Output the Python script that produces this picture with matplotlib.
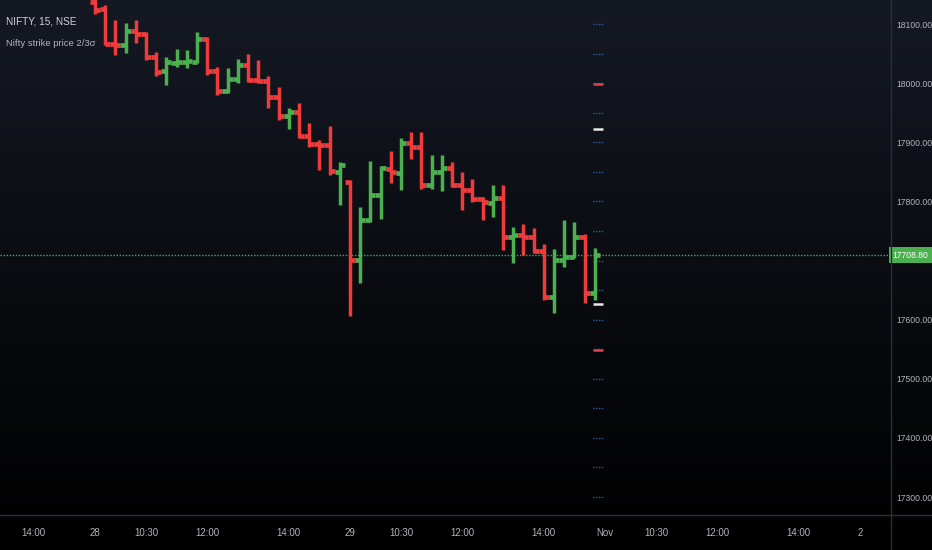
import numpy as np
import matplotlib
matplotlib.use('Agg')
import matplotlib.pyplot as plt
from matplotlib.colors import LinearSegmentedColormap
from matplotlib.lines import Line2D

plt.rcParams['font.family'] = ['Liberation Sans Narrow', 'Liberation Sans', 'DejaVu Sans']

# ---- data (15-minute NIFTY bars, index 0 = 28 Oct 09:15) ----
bar_index = list(range(50))
opens = [18138, 18125, 18066, 18064, 18088, 18083, 18044, 18020, 18034, 18035,
         18036, 18075, 18020, 17986, 18007, 18031, 18005, 18003, 17977, 17944,
         17951, 17911, 17897, 17895, 17850, 17833, 17701, 17769, 17811, 17855,
         17848, 17899, 17892, 17828, 17850, 17856, 17828, 17819, 17804, 17797,
         17806, 17740, 17743, 17740, 17716, 17638, 17701, 17706, 17740, 17645]
highs = [18150, 18132, 18107, 18102, 18107, 18087, 18053, 18044, 18058, 18056,
         18087, 18078, 18027, 18026, 18041, 18049, 18039, 18012, 17994, 17958,
         17966, 17933, 17904, 17928, 17867, 17836, 17791, 17868, 17860, 17885,
         17907, 17917, 17917, 17878, 17878, 17867, 17850, 17838, 17807, 17828,
         17828, 17757, 17762, 17755, 17728, 17720, 17769, 17765, 17745, 17721]
lows = [18117, 18064, 18048, 18051, 18068, 18039, 18012, 17997, 18027, 18026,
        18034, 18014, 17980, 17983, 18000, 18002, 18000, 17958, 17938, 17922,
        17907, 17892, 17853, 17845, 17794, 17606, 17662, 17765, 17770, 17831,
        17819, 17872, 17821, 17821, 17818, 17824, 17785, 17799, 17768, 17774,
        17718, 17696, 17709, 17713, 17633, 17611, 17689, 17704, 17628, 17633]
closes = [18124, 18066, 18064, 18088, 18083, 18044, 18019, 18036, 18036, 18037,
          18075, 18020, 17987, 18007, 18031, 18005, 18003, 17977, 17944, 17951,
          17911, 17897, 17895, 17851, 17862, 17701, 17769, 17811, 17857, 17850,
          17899, 17892, 17828, 17850, 17856, 17828, 17819, 17804, 17799, 17806,
          17740, 17743, 17740, 17716, 17638, 17701, 17706, 17740, 17645, 17708.8]

last_price = 17708.8
strike_levels = [17300, 17350, 17400, 17450, 17500, 17550, 17600, 17650, 17700,
                 17750, 17800, 17850, 17900, 17950, 18000, 18050, 18100]
two_sigma_levels = [17922, 17626]
three_sigma_levels = [17999, 17549]

x_tick_pos = [-6, 0, 5, 11, 19, 25, 30, 36, 44, 50, 55, 61, 69, 75]
x_tick_labels = ['14:00', '28', '10:30', '12:00', '14:00', '29', '10:30', '12:00',
                 '14:00', 'Nov', '10:30', '12:00', '14:00', '2']
y_ticks = [17300, 17400, 17500, 17600, 17800, 17900, 18000, 18100]
y_tick_labels = ['17300.00', '17400.00', '17500.00', '17600.00', '17800.00',
                 '17900.00', '18000.00', '18100.00']

UP = '#4caf50'
DOWN = '#ef3b3b'
AXTXT = '#b2b5be'
SEP = '#2a2e39'

W, H = 932, 550
fig = plt.figure(figsize=(W / 100, H / 100), dpi=100)

# background gradient
bg = fig.add_axes([0, 0, 1, 1])
bg.axis('off')
grad = np.linspace(0, 1, 256).reshape(-1, 1)
cmap = LinearSegmentedColormap.from_list('bg', ['#151923', '#0a0c11', '#000000'])
bg.imshow(grad, aspect='auto', cmap=cmap, extent=[0, 1, 0, 1], origin='upper')
bg.set_xlim(0, 1)
bg.set_ylim(0, 1)

ax = fig.add_axes([0, 35 / H, 891 / W, 515 / H])
ax.set_facecolor('none')
for s in ax.spines.values():
    s.set_visible(False)
ax.set_xlim(-9.31, 78.04)
ax.set_ylim(17269.6, 18140.6)

vlw = 2.5
tlw = 3.4
half = 0.5
for i, o, h, l, c in zip(bar_index, opens, highs, lows, closes):
    col = UP if c >= o else DOWN
    ax.plot([i, i], [l, h], color=col, lw=vlw, solid_capstyle='butt', zorder=3)
    ax.plot([i - half, i], [o, o], color=col, lw=tlw, solid_capstyle='butt', zorder=3)
    ax.plot([i, i + half], [c, c], color=col, lw=tlw, solid_capstyle='butt', zorder=3)

# strike markers
mx0, mx1 = 48.8, 49.8
ax.hlines(strike_levels, mx0, mx1, colors='#2d5c9c', lw=1.0,
          linestyles=(0, (1, 1)), zorder=2)
ax.hlines(two_sigma_levels, mx0, mx1, colors='#e8e8e8', lw=1.8, zorder=2)
ax.hlines(three_sigma_levels, mx0, mx1, colors='#e0404f', lw=1.8, zorder=2)

# last price line
ax.axhline(last_price, color='#43b047', lw=1.0, ls=(0, (1, 1.2)), zorder=1)

# axes ticks
ax.set_xticks(x_tick_pos)
ax.set_xticklabels(x_tick_labels)
ax.set_yticks(y_ticks)
ax.set_yticklabels(y_tick_labels)
ax.yaxis.tick_right()
ax.tick_params(axis='x', length=0, pad=9, labelcolor=AXTXT, labelsize=7)
ax.tick_params(axis='y', length=0, pad=4, labelcolor=AXTXT, labelsize=6.2)

# price label box
ax.text(1 + 19.5 / 891, last_price, '17708.80', transform=ax.get_yaxis_transform(),
        ha='center', va='center', color='white', fontsize=6.2, clip_on=False,
        bbox=dict(boxstyle='square,pad=0.4', fc=UP, ec='none'), zorder=5)

# separators
fig.add_artist(Line2D([891 / W, 891 / W], [0, 1], color=SEP, lw=1))
fig.add_artist(Line2D([0, 1], [35 / H, 35 / H], color=SEP, lw=1))

# legend texts
fig.text(6 / W, 1 - 22 / H, 'NIFTY, 15, NSE', color='#d1d4dc', fontsize=7.2,
         va='center', ha='left')
fig.text(6 / W, 1 - 43 / H, 'Nifty strike price 2/3σ', color='#b2b5be', fontsize=6.8,
         va='center', ha='left')

fig.savefig('out.png', dpi=100, facecolor='black')
